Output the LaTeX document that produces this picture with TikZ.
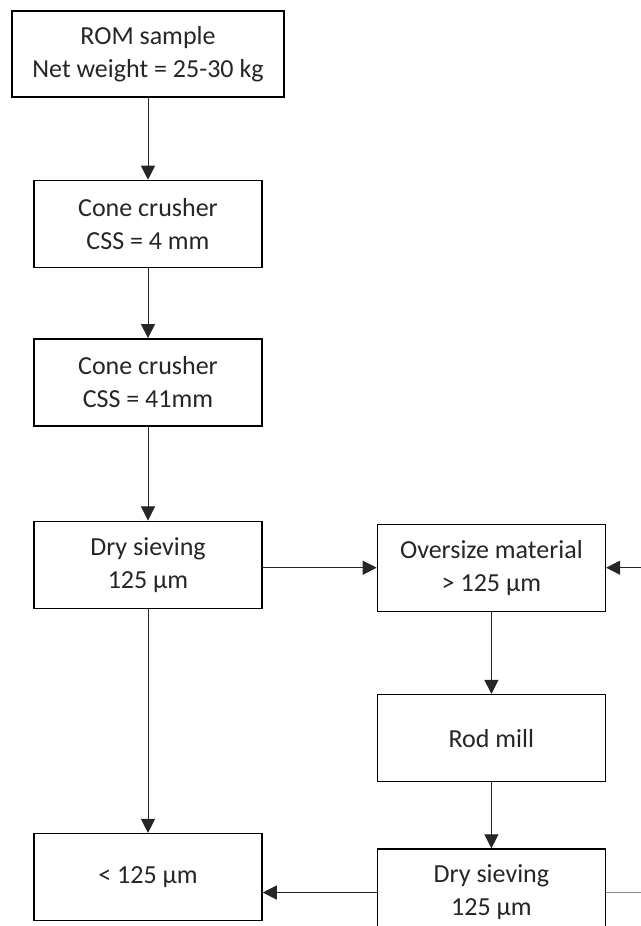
\documentclass[tikz,border=0pt]{standalone}
\usepackage{fontspec}
\setmainfont{Carlito}
\usetikzlibrary{positioning,arrows.meta}

\begin{document}
\begin{tikzpicture}[>={Triangle[length=10pt,width=10pt]},
  box/.style={draw, line width=1pt, fill=white, minimum width=5.7cm, minimum height=2.175cm,
    align=center, text=black!85, font=\fontsize{18.5}{23.5}\selectfont},
  link/.style={->, line width=0.7pt, draw=black!85},
  back/.style={line width=0.7pt, draw=black!45}]
  \useasboundingbox (0,0) rectangle (16.025,-23.15);

  \node[box, minimum width=6.8cm, minimum height=2.15cm] (rom) at (3.7,-1.35) {ROM sample\\Net weight = 25-30 kg};
  \node[box, below=2.05cm of rom] (cone1) {Cone crusher\\CSS = 4 mm};
  \node[box, below=1.75cm of cone1] (cone2) {Cone crusher\\CSS = 41mm};
  \node[box, below=2.35cm of cone2] (ds1) {Dry sieving\\125 µm};
  \node[box, right=2.85cm of ds1, yshift=-0.075cm] (over) {Oversize material\\> 125 µm};
  \node[box, below=2.05cm of over] (rod) {Rod mill};
  \node[box, below=1.65cm of rod] (ds2) {Dry sieving\\125 µm};
  \node[box, below=5.6cm of ds1] (fine) {< 125 µm};

  % recycle loop runs off the right edge
  \coordinate[right=1.2cm of ds2] (ret1);
  \coordinate[right=1.2cm of over] (ret2);

  \draw[link] (rom) -- (cone1);
  \draw[link] (cone1) -- (cone2);
  \draw[link] (cone2) -- (ds1);
  \draw[link] (ds1.east |- over.west) -- (over);
  \draw[link] (ds1) -- (fine);
  \draw[link] (over) -- (rod);
  \draw[link] (rod) -- (ds2);
  \draw[link] (ds2) -- (ds2 -| fine.east);
  \draw[back] (ds2) -- (ret1) -- (ret2);
  \draw[link] (ret2) -- (over);
\end{tikzpicture}
\end{document}
